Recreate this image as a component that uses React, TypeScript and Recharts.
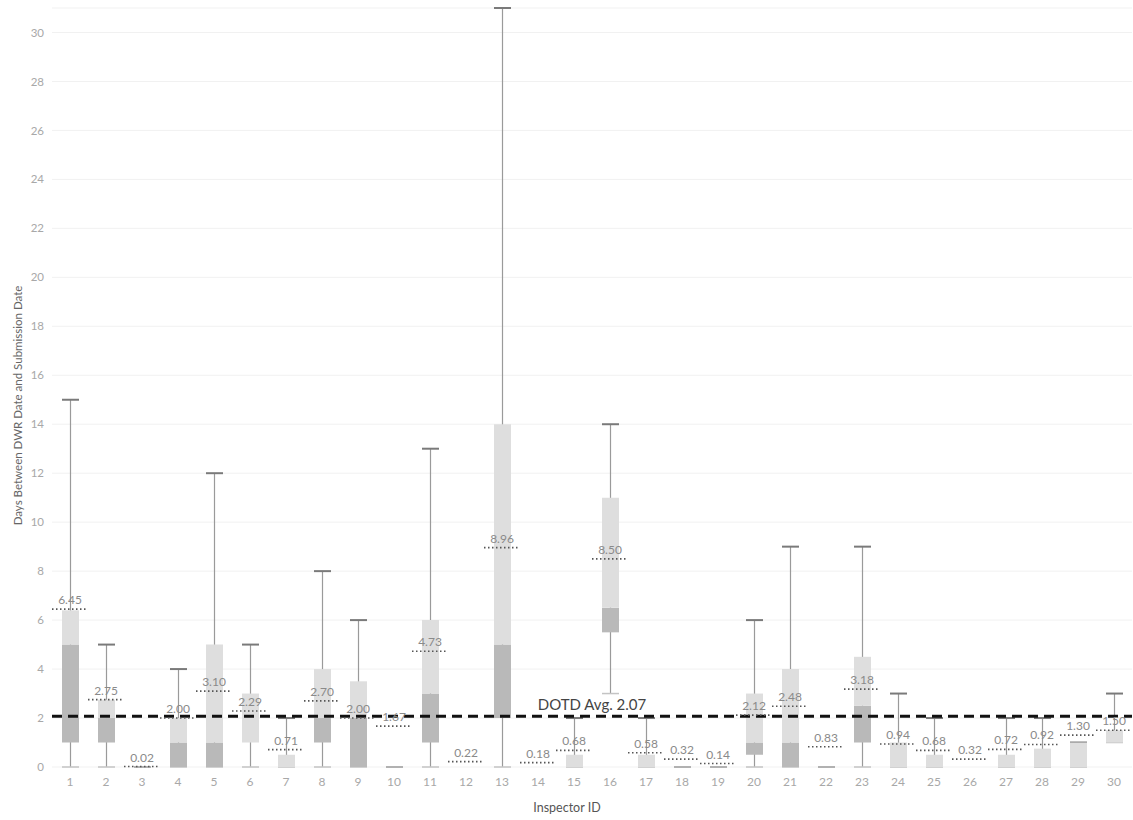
import React from 'react';
import { ComposedChart, Bar, XAxis, YAxis, CartesianGrid, ReferenceLine, Scatter, Label } from 'recharts';

const inspectorIds = ['1','2','3','4','5','6','7','8','9','10','11','12','13','14','15','16','17','18','19','20','21','22','23','24','25','26','27','28','29','30'];
const minValues: (number | null)[] = [0, 0, 0, 0, 0, 0, 0, 0, 0, 0, 0, null, 0, null, 0, 3, 0, 0, 0, 0, 0, 0, 0, 0, 0, null, 0, 0, 0, 1];
const q1Values: (number | null)[] = [1, 1, 0, 0, 0, 1, 0, 1, 0, 0, 1, null, 2, null, 0, 5.5, 0, 0, 0, 0.5, 0, 0, 1, 0, 0, null, 0, 0, 0, 1];
const medianValues: (number | null)[] = [5, 2, 0, 1, 1, 1, 0, 2, 2, 0, 3, null, 5, null, 0, 6.5, 0, 0, 0, 1, 1, 0, 2.5, 0, 0, null, 0, 0, 0, 1];
const q3Values: (number | null)[] = [6.4, 2.75, 0, 2, 5, 3, 0.5, 4, 3.5, 0, 6, null, 14, null, 0.5, 11, 0.5, 0, 0, 3, 4, 0, 4.5, 1, 0.5, null, 0.5, 0.75, 1, 1.5];
const maxValues: (number | null)[] = [15, 5, 0, 4, 12, 5, 2, 8, 6, 0, 13, null, 31, null, 2, 14, 2, 0, 0, 6, 9, 0, 9, 3, 2, null, 2, 2, 1, 3];
const avgValues = [6.45, 2.75, 0.02, 2.0, 3.1, 2.29, 0.71, 2.7, 2.0, 1.67, 4.73, 0.22, 8.96, 0.18, 0.68, 8.5, 0.58, 0.32, 0.14, 2.12, 2.48, 0.83, 3.18, 0.94, 0.68, 0.32, 0.72, 0.92, 1.3, 1.5];
const yTicks = [0, 2, 4, 6, 8, 10, 12, 14, 16, 18, 20, 22, 24, 26, 28, 30];
const dotdAverage = 2.07;

const FONT = "Lato, 'Open Sans', sans-serif";

const data = inspectorIds.map((id, i) => {
  const q1 = q1Values[i];
  const med = medianValues[i];
  const q3 = q3Values[i];
  const mn = minValues[i];
  const mx = maxValues[i];
  return {
    id,
    base: q1,
    lower: q1 == null || med == null ? null : med - q1,
    upper: med == null || q3 == null ? null : q3 - med,
    whisker: mn == null || mx == null ? null : [mn, mx],
    avg: avgValues[i],
  };
});

const WhiskerShape = (props: any) => {
  const { x, y, width, height } = props;
  if (x == null || y == null) return null;
  const top = Math.min(y, y + height);
  const bottom = Math.max(y, y + height);
  const cx = x + width / 2;
  return (
    <g>
      <line x1={cx} x2={cx} y1={top} y2={bottom} stroke="#9a9a9a" strokeWidth={1.2} />
      <line x1={x} x2={x + width} y1={top} y2={top} stroke="#7a7a7a" strokeWidth={2} />
      <line x1={x} x2={x + width} y1={bottom} y2={bottom} stroke="#c4c4c4" strokeWidth={1.5} />
    </g>
  );
};

const AvgShape = (props: any) => {
  const { cx, cy, payload } = props;
  if (cx == null || cy == null) return null;
  return (
    <g>
      <line x1={cx - 18} x2={cx + 18} y1={cy} y2={cy} stroke="#555" strokeWidth={1.6} strokeDasharray="1.5 2.5" />
      <text x={cx} y={cy - 5} textAnchor="middle" fontSize={12} fill="#8a8a8a" fontFamily={FONT}>
        {Number(payload.avg).toFixed(2)}
      </text>
    </g>
  );
};

export default function App() {
  return (
    <div style={{ position: 'absolute', left: 0, top: 0, background: '#fff' }}>
      <ComposedChart width={1133} height={820} data={data} margin={{ top: 8, right: 1, bottom: 0, left: 8 }}>
        <CartesianGrid vertical={false} stroke="#f1f1f1" />
        <XAxis
          dataKey="id"
          height={53}
          tickLine={false}
          axisLine={false}
          interval={0}
          tickMargin={4}
          tick={{ fill: '#a8a8a8', fontSize: 12, fontFamily: FONT }}
        >
          <Label
            content={(p: any) => {
              const vb = p.viewBox || {};
              return (
                <text x={vb.x + vb.width / 2 - 25} y={vb.y + vb.height - 8} textAnchor="middle" fontSize={12.5} fill="#555" fontFamily={FONT}>
                  Inspector ID
                </text>
              );
            }}
          />
        </XAxis>
        <XAxis xAxisId="w" dataKey="id" hide />
        <YAxis
          domain={[0, 31]}
          ticks={yTicks}
          width={44}
          tickLine={false}
          axisLine={false}
          interval={0}
          tick={{ fill: '#a8a8a8', fontSize: 11.5, fontFamily: FONT }}
        >
          <Label
            content={(p: any) => {
              const vb = p.viewBox || {};
              const tx = 17;
              const ty = vb.y + vb.height / 2 + 18;
              return (
                <text x={tx} y={ty} transform={`rotate(-90, ${tx}, ${ty})`} textAnchor="middle" dominantBaseline="central" fontSize={11.5} fill="#666" fontFamily={FONT}>
                  Days Between DWR Date and Submission Date
                </text>
              );
            }}
          />
        </YAxis>
        <Bar xAxisId="w" dataKey="whisker" barSize={17} shape={WhiskerShape} isAnimationActive={false} />
        <Bar dataKey="base" stackId="box" barSize={17} fill="transparent" isAnimationActive={false} />
        <Bar dataKey="lower" stackId="box" barSize={17} fill="#b9b9b9" isAnimationActive={false} />
        <Bar dataKey="upper" stackId="box" barSize={17} fill="#dedede" isAnimationActive={false} />
        <ReferenceLine
          y={dotdAverage}
          stroke="#111"
          strokeWidth={3}
          strokeDasharray="10 6"
          label={{ value: 'DOTD Avg. 2.07', position: 'top', fill: '#444', fontSize: 15, offset: 6, fontFamily: FONT }}
        />
        <Scatter dataKey="avg" shape={AvgShape} isAnimationActive={false} />
      </ComposedChart>
    </div>
  );
}
